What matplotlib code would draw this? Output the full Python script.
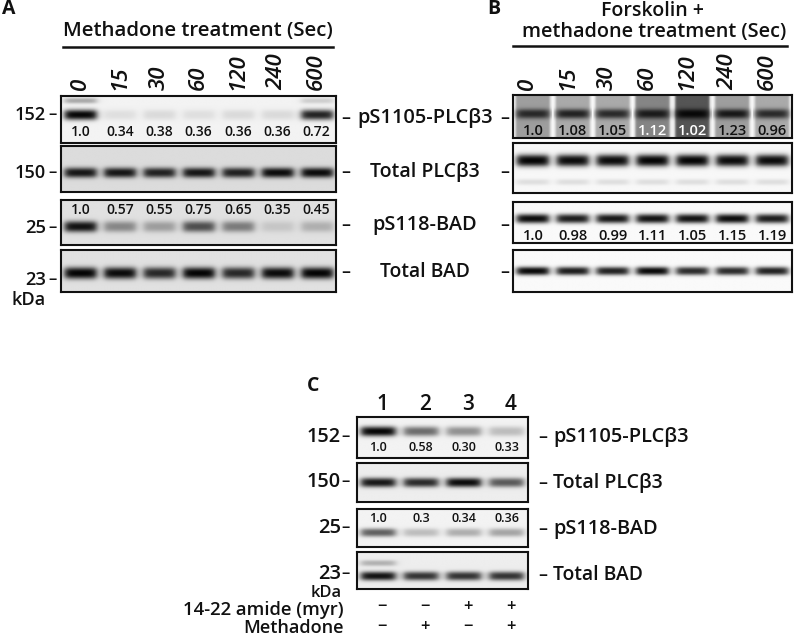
import numpy as np
import matplotlib
matplotlib.use("Agg")
import matplotlib.pyplot as plt

plt.rcParams['font.family'] = ['Open Sans', 'DejaVu Sans']
plt.rcParams['font.weight'] = 'semibold'

W, H = 796, 636

# ---- data ----
times = ["0", "15", "30", "60", "120", "240", "600"]
lanes_c = ["1", "2", "3", "4"]

a_rows = ["pS1105-PLCβ3", "Total PLCβ3", "pS118-BAD", "Total BAD"]
a_markers = ["152", "150", "25", "23"]

a_p_plc_vals = ["1.0", "0.34", "0.38", "0.36", "0.36", "0.36", "0.72"]
a_p_bad_vals = ["1.0", "0.57", "0.55", "0.75", "0.65", "0.35", "0.45"]
b_p_plc_vals = ["1.0", "1.08", "1.05", "1.12", "1.02", "1.23", "0.96"]
b_p_bad_vals = ["1.0", "0.98", "0.99", "1.11", "1.05", "1.15", "1.19"]
c_p_plc_vals = ["1.0", "0.58", "0.30", "0.33"]
c_p_bad_vals = ["1.0", "0.3", "0.34", "0.36"]

# band darkness per lane (0 = none, 1 = black)
a_p_plc = [0.97, 0.08, 0.10, 0.08, 0.10, 0.10, 0.85]
a_t_plc = [0.90, 0.90, 0.85, 0.90, 0.85, 0.95, 0.95]
a_p_bad = [0.92, 0.40, 0.30, 0.65, 0.45, 0.12, 0.22]
a_t_bad = [0.98, 0.95, 0.82, 0.98, 0.82, 0.95, 0.98]
b_p_plc = [0.75, 0.80, 0.75, 0.80, 0.90, 0.85, 0.75]
b_smear = [0.35, 0.30, 0.30, 0.45, 0.65, 0.35, 0.30]
b_t_plc = [0.98, 0.95, 0.95, 0.98, 0.98, 0.95, 0.95]
b_p_bad = [0.95, 0.88, 0.90, 0.92, 0.92, 0.95, 0.88]
b_t_bad = [0.96, 0.88, 0.86, 0.96, 0.82, 0.82, 0.86]
c_p_plc = [0.97, 0.55, 0.40, 0.22]
c_t_plc = [0.90, 0.82, 0.95, 0.62]
c_p_bad = [0.60, 0.22, 0.28, 0.32]
c_t_bad = [0.92, 0.78, 0.78, 0.78]

amide = ["−", "−", "+", "+"]
methadone = ["−", "+", "−", "+"]

fig = plt.figure(figsize=(W / 100, H / 100), dpi=100)
renderer = fig.canvas.get_renderer()
INK = "#111111"


def txt(x, y, s, size=13, ha="center", va="center", width=None, **kw):
    kw.setdefault("color", INK)
    t = fig.text(x / W, 1 - y / H, s, fontsize=size, ha=ha, va=va, **kw)
    if width is not None:
        w = t.get_window_extent(renderer).width
        t.set_fontsize(size * width / w)
    return t


def blot(box, layers, bg, width=0.40, smear=None):
    x0, y0, x1, y1 = box
    n = len(layers[0][0])
    ax = fig.add_axes([x0 / W, 1 - y1 / H, (x1 - x0) / W, (y1 - y0) / H])
    ny, nx = 90, n * 50
    yy = (np.arange(ny) + 0.5) / ny
    xx = (np.arange(nx) + 0.5) / nx * n
    X, Y = np.meshgrid(xx, yy)
    keep = np.ones_like(X)
    for bands, row, thick in layers:
        for i, b in enumerate(bands):
            lane = 1 / (1 + np.exp((np.abs(X - (i + 0.5)) - width) / 0.05))
            prof = np.exp(-(np.abs((Y - row) / thick)) ** 2.5)
            keep *= 1 - b * lane * prof
    img = bg * keep
    if smear is not None:
        gap = np.ones_like(X)
        for i, s in enumerate(smear):
            lane = 1 / (1 + np.exp((np.abs(X - (i + 0.5)) - 0.43) / 0.015))
            gap *= 1 - s * lane
        img = img * gap
        img = np.where(gap > 0.99, 0.97, img)
    ax.imshow(img, cmap="gray", vmin=0, vmax=1, aspect="auto",
              extent=(0, n, 1, 0), interpolation="bilinear")
    ax.set_xlim(0, n)
    ax.set_ylim(1, 0)
    ax.set_xticks([])
    ax.set_yticks([])
    for sp in ax.spines.values():
        sp.set_linewidth(1.5)
        sp.set_color(INK)
    return ax


def lane_vals(ax, vals, y, size=10, colors=None):
    for i, v in enumerate(vals):
        c = INK if colors is None else colors[i]
        ax.text(i + 0.5, y, v, fontsize=size, ha="center", va="center", color=c)


def hline(x0, x1, y, lw=1.8):
    fig.add_artist(plt.Line2D([x0 / W, x1 / W], [1 - y / H, 1 - y / H],
                              color=INK, lw=lw))


def lane_labels(box_x, y, offset):
    n = len(times)
    for i, t in enumerate(times):
        cx = box_x[0] + (i + 0.5) * (box_x[1] - box_x[0]) / n
        txt(cx + offset, y, t, size=16, style="italic", rotation=90, va="bottom")


row_widths = [136, 110, 105, 90]

# ---------------- Panel A ----------------
txt(9, 9, "A", size=14, weight="bold")
txt(198, 31, "Methadone treatment (Sec)", size=15, width=270)
hline(63, 333, 47)
lane_labels((61, 336), 90, 0)

ax = blot((61, 96, 336, 143), [(a_p_plc, 0.40, 0.11), ([0.3, 0, 0, 0, 0, 0, 0.15], 0.10, 0.06)], 0.95)
lane_vals(ax, a_p_plc_vals, 0.76)
blot((61, 146, 336, 192), [(a_t_plc, 0.58, 0.11)], 0.86)
ax = blot((61, 200, 336, 245), [(a_p_bad, 0.60, 0.12)], 0.88)
lane_vals(ax, a_p_bad_vals, 0.22)
blot((61, 250, 336, 292), [(a_t_bad, 0.55, 0.14)], 0.88)

for m, y in zip(a_markers, [115, 173, 228, 280]):
    txt(46, y, m, size=13, ha="right", width=31 if len(m) == 3 else 21)
    txt(52, y, "–", size=12)
txt(46, 300, "kDa", size=13, ha="right", width=34)

for lab, y, w in zip(a_rows, [118, 172, 225, 272], row_widths):
    txt(425, y, lab, size=14, width=w)
    txt(346, y, "–", size=13)
    txt(505, y, "–", size=13)

# ---------------- Panel B ----------------
txt(494, 9, "B", size=14, weight="bold")
txt(652, 11, "Forskolin +", size=15, width=103)
txt(654, 32, "methadone treatment (Sec)", size=15, width=265)
hline(513, 787, 46)
lane_labels((513, 792), 90, -5)

ax = blot((513, 95, 792, 138), [(b_p_plc, 0.45, 0.11)], 0.95, width=0.40, smear=b_smear)
lane_vals(ax, b_p_plc_vals, 0.84, size=10.5, colors=[INK, INK, INK, "white", "white", INK, INK])
blot((513, 143, 792, 193), [(b_t_plc, 0.35, 0.12), ([0.1] * 7, 0.78, 0.06)], 0.97)
ax = blot((513, 202, 792, 243), [(b_p_bad, 0.42, 0.11)], 0.98)
lane_vals(ax, b_p_bad_vals, 0.82, size=10.5)
blot((513, 250, 792, 292), [(b_t_bad, 0.50, 0.10)], 0.98)

# ---------------- Panel C ----------------
txt(313, 386, "C", size=14, weight="bold")
c_box_x = (357, 528)
for i, t in enumerate(lanes_c):
    cx = c_box_x[0] + (i + 0.5) * (c_box_x[1] - c_box_x[0]) / len(lanes_c)
    txt(cx + 4, 405, t, size=15)

ax = blot((357, 417, 528, 458), [(c_p_plc, 0.35, 0.12)], 0.95)
lane_vals(ax, c_p_plc_vals, 0.75, size=9)
blot((357, 463, 528, 502), [(c_t_plc, 0.50, 0.12)], 0.93)
ax = blot((357, 509, 528, 547), [(c_p_bad, 0.62, 0.11)], 0.95)
lane_vals(ax, c_p_bad_vals, 0.25, size=9)
blot((357, 552, 528, 589), [(c_t_bad, 0.65, 0.12), ([0.25, 0, 0, 0], 0.30, 0.08)], 0.93)

for m, y in zip(a_markers, [437, 482, 528, 574]):
    txt(341, y, m, size=15, ha="right", width=34 if len(m) == 3 else 23)
    txt(346, y, "–", size=12)
txt(342, 593, "kDa", size=14, ha="right", width=31)
for lab, y, w in zip(a_rows, [437, 483, 529, 575], row_widths):
    txt(543, y, "–", size=13)
    txt(553, y, lab, size=14, ha="left", width=w)

txt(344, 610, "14-22 amide (myr)", size=13, ha="right", width=160)
txt(344, 628, "Methadone", size=14, ha="right", width=102)
for i in range(len(lanes_c)):
    cx = c_box_x[0] + (i + 0.5) * (c_box_x[1] - c_box_x[0]) / len(lanes_c)
    txt(cx + 4, 607, amide[i], size=12)
    txt(cx + 4, 627, methadone[i], size=12)

fig.savefig("out.png", dpi=100)
